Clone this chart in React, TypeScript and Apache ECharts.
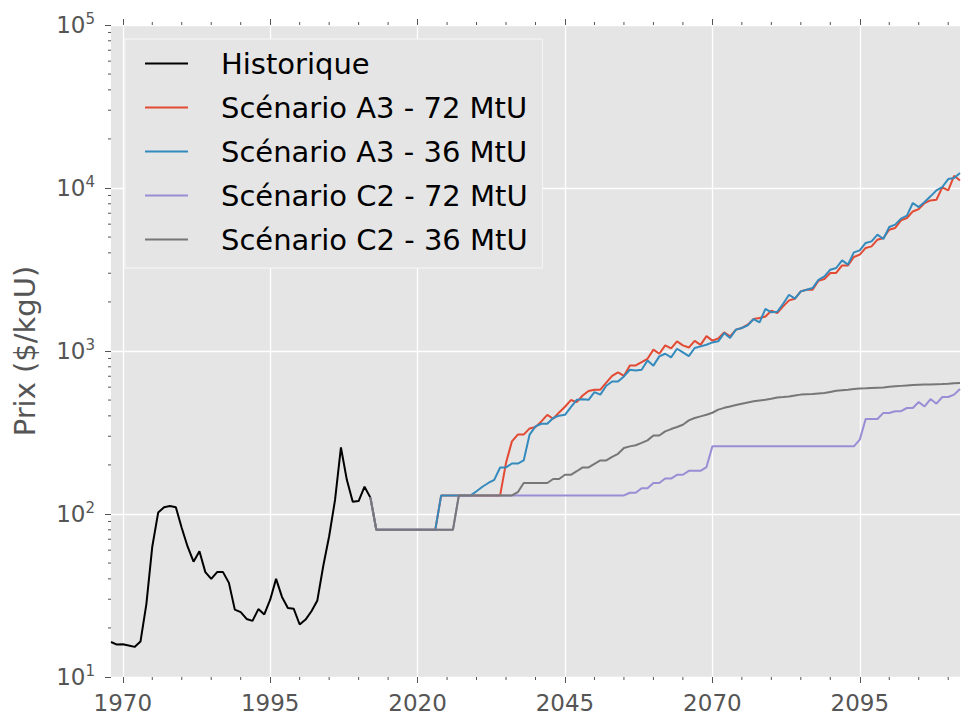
import React, { useEffect, useRef } from 'react';
import * as echarts from 'echarts';

const FONT = 'DejaVu Sans';
const TEXT_COLOR = '#555555';
const TICK_COLOR = '#555555';

const X_MIN = 1968;
const X_MAX = 2112;
const Y_MIN = 10;
const Y_MAX = 100000;

const xMajorTicks = [1970, 1995, 2020, 2045, 2070, 2095];
const xMinorTicks = [1975, 1980, 1985, 1990, 2000, 2005, 2010, 2015, 2025, 2030, 2035, 2040, 2050, 2055, 2060, 2065, 2075, 2080, 2085, 2090, 2100, 2105, 2110];
const yMinorTicks = [20, 30, 40, 50, 60, 70, 80, 90, 200, 300, 400, 500, 600, 700, 800, 900, 2000, 3000, 4000, 5000, 6000, 7000, 8000, 9000, 20000, 30000, 40000, 50000, 60000, 70000, 80000, 90000];

const seriesNames = ['Historique', 'Scénario A3 - 72 MtU', 'Scénario A3 - 36 MtU', 'Scénario C2 - 72 MtU', 'Scénario C2 - 36 MtU'];
const seriesColors = ['#000000', '#E24A33', '#348ABD', '#988ED5', '#777777'];

// Historical prices, 1968 .. 2012
const histStartYear = 1968;
const histValues = [
  16.4, 15.8, 15.9, 15.6, 15.3, 16.5, 28, 63, 102, 110,
  112, 110, 82, 63, 51, 59, 44, 40, 44, 44,
  37.8, 25.9, 25, 22.7, 22.1, 26.1, 24.2, 29.8, 40, 31,
  26.5, 26.2, 21, 22.5, 25.3, 29.5, 48, 73, 122, 256,
  162, 119, 120, 147, 126,
];

// Scenarios, 2012 .. 2112
const scenStartYear = 2012;
const a3_72 = [
  126,
  80, 80, 80, 80, 80, 80, 80, 80, 80, 80, 80,
  130, 130, 130, 130, 130, 130, 130, 130, 130, 130, 130,
  206, 279, 307, 307, 335, 342, 370, 406, 384, 420,
  455, 500, 486, 533, 569, 579, 579, 639, 703, 739,
  703, 815, 815, 854, 896, 1019, 962, 1082, 1038, 1146,
  1082, 1050, 1153, 1090, 1233, 1158, 1194, 1301, 1230, 1352,
  1384, 1450, 1571, 1593, 1629, 1766, 1710, 1878, 2044, 2094,
  2322, 2377, 2377, 2698, 2765, 3011, 3011, 3352, 3352, 3776,
  3900, 4288, 4385, 4820, 4935, 5546, 5685, 6330, 6542, 7180,
  7425, 8087, 8390, 8475, 10090, 9670, 11880, 11130,
];
const a3_36 = [
  126,
  80, 80, 80, 80, 80, 80, 80, 80, 80, 80, 80,
  130, 130, 130, 130, 130, 130,
  138, 147, 155, 162, 193,
  193, 204, 204, 213, 307, 345, 358, 358, 388, 401,
  406, 453, 502, 506, 502, 560, 540, 612, 650, 650,
  698, 767, 760, 767, 875, 813, 927, 962, 914, 1032,
  980, 930, 1043, 1067, 1093, 1129, 1146, 1288, 1202, 1352,
  1384, 1435, 1571, 1500, 1811, 1726, 1740, 1950, 2213, 2094,
  2322, 2377, 2432, 2735, 2870, 3155, 3230, 3597, 3388, 4029,
  4142, 4603, 4703, 5174, 4866, 5768, 5958, 6486, 6765, 8087,
  7640, 8202, 8890, 9670, 10140, 11350, 11500, 12360,
];
const c2_72 = [
  126,
  80, 80, 80, 80, 80, 80, 80, 80, 80, 80, 80, 80, 80, 80,
  130, 130, 130, 130, 130, 130, 130, 130, 130, 130,
  130, 130, 130, 130, 130, 130, 130, 130, 130, 130,
  130, 130, 130, 130, 130, 130, 130, 130, 130,
  135, 135, 144, 144, 155, 155, 165, 165, 174,
  174, 184, 184, 184, 194,
  260, 260, 260, 260, 260, 260, 260, 260, 260, 260,
  260, 260, 260, 260, 260, 260, 260, 260, 260, 260,
  260, 260, 260, 260, 260,
  286, 383, 383, 383, 417, 417, 427, 427, 447, 447,
  486, 457, 507, 475, 522, 522, 540, 585,
];
const c2_36 = [
  126,
  80, 80, 80, 80, 80, 80, 80, 80, 80, 80, 80, 80, 80, 80,
  130, 130, 130, 130, 130, 130, 130, 130, 130, 130,
  136, 155, 155, 155, 155, 155, 164, 164, 174, 174,
  183, 193, 193, 203, 213, 213, 224, 234, 254, 260,
  264, 273, 283, 303, 303, 321, 332, 342, 353, 375,
  388, 397, 406, 418, 437, 448, 457, 466, 475, 483,
  491, 497, 502, 510, 519, 522, 526, 533, 540, 542,
  544, 548, 552, 561, 570, 575, 579, 584, 588, 590,
  593, 596, 598, 603, 607, 611, 615, 618, 620, 622,
  624, 626, 627, 630, 634, 637,
];

const toPairs = (start: number, vals: number[]) => vals.map((v, i) => [start + i, v]);

function buildOption(): any {
  const lineSeries = [
    toPairs(histStartYear, histValues),
    toPairs(scenStartYear, a3_72),
    toPairs(scenStartYear, a3_36),
    toPairs(scenStartYear, c2_72),
    toPairs(scenStartYear, c2_36),
  ].map((data, i) => ({
    type: 'line',
    name: seriesNames[i],
    data,
    symbol: 'none',
    showSymbol: false,
    color: seriesColors[i],
    itemStyle: { color: seriesColors[i] },
    lineStyle: { color: seriesColors[i], width: 2 },
    z: 3,
  }));

  return {
    animation: false,
    backgroundColor: '#ffffff',
    textStyle: { fontFamily: FONT },
    grid: {
      left: 111,
      right: 1,
      top: 25,
      bottom: 39,
      show: true,
      backgroundColor: '#E5E5E5',
      borderWidth: 0,
      containLabel: false,
      outerBoundsMode: 'none',
    },
    legend: {
      data: seriesNames,
      orient: 'vertical',
      left: 125,
      top: 39,
      padding: [10, 15, 14, 20],
      icon: 'rect',
      itemWidth: 43,
      itemHeight: 2,
      itemGap: 15,
      backgroundColor: '#E5E5E5',
      borderColor: '#f7f7f7',
      borderWidth: 1,
      borderRadius: 0,
      selectedMode: false,
      textStyle: {
        fontFamily: FONT,
        fontSize: 29,
        lineHeight: 29,
        color: '#000000',
        padding: [0, 0, 0, 28],
      },
    },
    xAxis: [
      {
        type: 'value',
        min: X_MIN,
        max: X_MAX,
        position: 'bottom',
        axisLine: { show: false },
        axisTick: { show: true, length: 6, customValues: xMajorTicks, lineStyle: { color: TICK_COLOR, width: 1 } },
        axisLabel: {
          customValues: xMajorTicks,
          formatter: (v: number) => String(v),
          fontFamily: FONT,
          fontSize: 23,
          color: TEXT_COLOR,
          margin: 14,
        },
        splitLine: { show: true, lineStyle: { color: '#ffffff', width: 1.3 } },
      },
      {
        type: 'value',
        min: X_MIN,
        max: X_MAX,
        position: 'top',
        axisLine: { show: false },
        axisTick: { show: true, length: 6, customValues: xMajorTicks, lineStyle: { color: TICK_COLOR, width: 1 } },
        axisLabel: { show: false },
        splitLine: { show: false },
      },
    ],
    yAxis: {
      type: 'log',
      logBase: 10,
      min: Y_MIN,
      max: Y_MAX,
      name: 'Prix ($/kgU)',
      nameLocation: 'middle',
      nameGap: 72,
      nameTextStyle: { fontFamily: FONT, fontSize: 29, color: TEXT_COLOR },
      axisLine: { show: false },
      axisTick: { show: true, length: 6, lineStyle: { color: TICK_COLOR, width: 1 } },
      axisLabel: {
        margin: 16,
        formatter: (v: number) => {
          const n = Math.round(Math.log10(v));
          return `{b|10}{s|${n}}`;
        },
        rich: {
          b: { fontFamily: FONT, fontSize: 23, lineHeight: 27, color: TEXT_COLOR },
          s: { fontFamily: FONT, fontSize: 15, lineHeight: 15, color: TEXT_COLOR, verticalAlign: 'top' },
        },
      },
      splitLine: { show: true, lineStyle: { color: '#ffffff', width: 1.3 } },
    },
    series: [
      ...lineSeries,
      {
        type: 'custom',
        name: 'xMinor',
        silent: true,
        clip: false,
        data: xMinorTicks.map((v) => [v, Y_MIN]),
        encode: { x: 0, y: 1 },
        renderItem: (params: any, api: any) => {
          const v = api.value(0);
          const b = api.coord([v, Y_MIN]);
          const t = api.coord([v, Y_MAX]);
          return {
            type: 'group',
            children: [
              { type: 'line', shape: { x1: b[0], y1: b[1], x2: b[0], y2: b[1] + 3 }, style: { stroke: TICK_COLOR, lineWidth: 1 } },
              { type: 'line', shape: { x1: t[0], y1: t[1] - 3, x2: t[0], y2: t[1] }, style: { stroke: TICK_COLOR, lineWidth: 1 } },
            ],
          };
        },
        z: 1,
      },
      {
        type: 'custom',
        name: 'yMinor',
        silent: true,
        clip: false,
        data: yMinorTicks.map((v) => [X_MIN, v]),
        encode: { x: 0, y: 1 },
        renderItem: (params: any, api: any) => {
          const v = api.value(1);
          const l = api.coord([X_MIN, v]);
          return {
            type: 'line',
            shape: { x1: l[0] - 3, y1: l[1], x2: l[0], y2: l[1] },
            style: { stroke: TICK_COLOR, lineWidth: 1 },
          };
        },
        z: 1,
      },
    ],
  };
}

export default function App() {
  const ref = useRef<HTMLDivElement>(null);
  useEffect(() => {
    if (!ref.current) return;
    const chart = echarts.init(ref.current, null, { renderer: 'svg' });
    chart.setOption(buildOption());
    return () => chart.dispose();
  }, []);
  return (
    <div
      ref={ref}
      style={{ position: 'fixed', left: 0, top: 0, width: 961, height: 716, background: '#ffffff' }}
    />
  );
}
